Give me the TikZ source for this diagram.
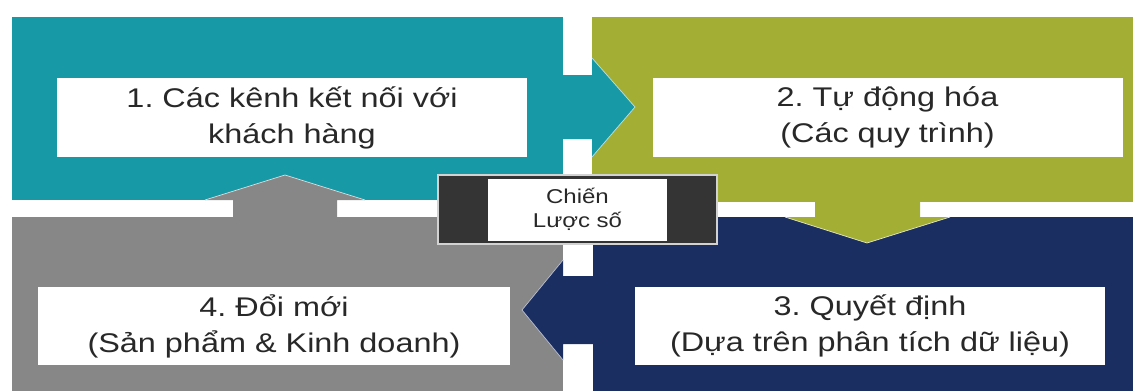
\documentclass[tikz,border=0pt]{standalone}
\usepackage{fontspec}
\setmainfont[FakeStretch=1.2]{Liberation Sans}
\usepackage{xcolor}
\usetikzlibrary{positioning}

\definecolor{tealblk}{RGB}{24,153,166}
\definecolor{greenblk}{RGB}{163,175,52}
\definecolor{navyblk}{RGB}{27,46,98}
\definecolor{grayblk}{RGB}{135,135,135}
\definecolor{darkfrm}{RGB}{52,52,52}
\definecolor{txtgray}{RGB}{40,40,40}

\begin{document}
\frenchspacing
\begin{tikzpicture}[x=1pt,y=-1pt,
  txtbox/.style={fill=white, inner sep=0pt, minimum width=470pt, minimum height=79pt,
    align=center, text=txtgray, font=\fontsize{27}{36}\selectfont},
  headedge/.style={draw=white!70!#1, line width=0.7pt}]

\useasboundingbox (0,0) rectangle (1133,391);

% Quadrant blocks
\fill[tealblk] (12,17) rectangle (563,200);
\fill[greenblk] (592,17) rectangle (1133,202);
\fill[navyblk] (593,217) rectangle (1133,391);
\fill[grayblk] (12,217) rectangle (563,391);

% Arrows between blocks
\fill[tealblk] (563,75) -- (592,75) -- (592,58) -- (635,107) -- (592,157) -- (592,139) -- (563,139) -- cycle;
\draw[headedge=tealblk] (592,58) -- (635,107) -- (592,157);
\fill[greenblk] (815,202) -- (815,217) -- (785,217) -- (867,243) -- (950,217) -- (920,217) -- (920,202) -- cycle;
\draw[headedge=greenblk] (785,217) -- (867,243) -- (950,217);
\fill[navyblk] (593,276) -- (563,276) -- (563,260) -- (522,310) -- (563,360) -- (563,344) -- (593,344) -- cycle;
\draw[headedge=navyblk] (563,260) -- (522,310) -- (563,360);
\fill[grayblk] (233,217) -- (233,200) -- (205,200) -- (285,175) -- (365,200) -- (337,200) -- (337,217) -- cycle;
\draw[headedge=grayblk] (205,200) -- (285,175) -- (365,200);

% Text boxes
\node[txtbox] (kenh) at (292,117.5) {1. Các kênh kết nối với\\khách hàng};
\node[txtbox] (tudong) at (887.5,117.5) {2. Tự động hóa\\(Các quy trình)};
\node[txtbox, minimum height=78pt] (quyetdinh) at (870,326) {3. Quyết định\\(Dựa trên phân tích dữ liệu)};
\node[txtbox, minimum width=472pt, minimum height=78pt] (doimoi) at (274,326) {4. Đổi mới\\(Sản phẩm \& Kinh doanh)};

% Centre label
\node[draw=gray!35, line width=1.2pt, fill=darkfrm, inner sep=0pt, minimum width=279pt, minimum height=69pt] (frame) at (577.5,209.5) {};
\node[fill=white, inner sep=0pt, minimum width=179pt, minimum height=62pt, align=center,
  text=txtgray, font=\fontsize{20}{24}\selectfont] (chienluoc) at (frame.center) {Chiến\\Lược số};

\end{tikzpicture}
\end{document}
